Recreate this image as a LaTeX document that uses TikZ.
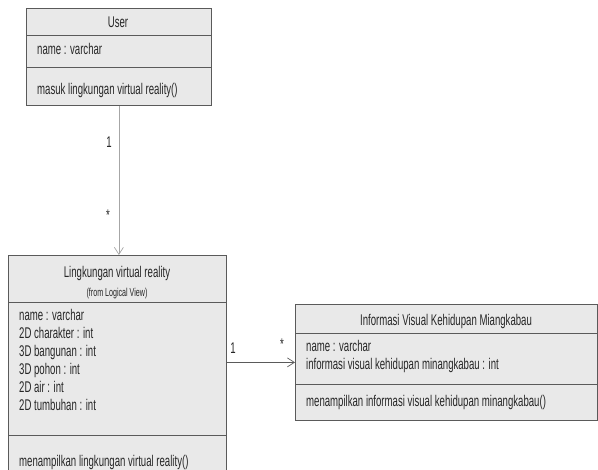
\documentclass[tikz,border=0pt]{standalone}
\usepackage{fontspec}
\setmainfont[FakeStretch=0.62]{Liberation Sans}
\usetikzlibrary{arrows.meta}
\definecolor{boxfill}{HTML}{E9E9E9}
\definecolor{boxline}{HTML}{5A5A5A}
\definecolor{txtgray}{HTML}{262626}

\begin{document}
\begin{tikzpicture}[x=1pt,y=-1pt,
	cls/.style={draw=boxline, fill=boxfill, line width=0.8pt, inner sep=0pt, anchor=north west},
	sep/.style={draw=boxline, line width=0.8pt},
	lbl/.style={text=txtgray, font=\fontsize{15.5}{17}\selectfont, inner sep=0pt, anchor=base},
	attr/.style={lbl, anchor=base west},
	assoc/.style={line width=0.7pt, -{Straight Barb[length=7pt,width=9pt]}}]
		\useasboundingbox (0,0) rectangle (598,470);
		% classes
		\node[cls, minimum width=185, minimum height=97] (user) at (26,8) {};
		\node[cls, minimum width=218, minimum height=225] (ling) at (8,255) {};
		\node[cls, minimum width=302, minimum height=116] (info) at (295,304) {};
		\draw[sep] (26,35) -- (211,35);
		\draw[sep] (26,67) -- (211,67);
		\draw[sep] (8,302) -- (226,302);
		\draw[sep] (8,435) -- (226,435);
		\draw[sep] (295,333) -- (597,333);
		\draw[sep] (295,384) -- (597,384);
		% User
		\node[lbl] (usertitle) at (118,28) {User};
		\node[attr] (username) at (37,55) {name : varchar};
		\node[attr] (usermasuk) at (37,95) {masuk lingkungan virtual reality()};
		% Lingkungan virtual reality
		\node[lbl] (lingtitle) at (117,278) {Lingkungan virtual reality};
		\node[lbl, font=\fontsize{11.5}{13}\selectfont] (lingfrom) at (117,297) {(from Logical View)};
		\node[attr] (lingname) at (19,321) {name : varchar};
		\node[attr] (lingchar) at (19,339) {2D charakter : int};
		\node[attr] (lingbang) at (19,357) {3D bangunan : int};
		\node[attr] (lingpoh) at (19,375) {3D pohon : int};
		\node[attr] (lingair) at (19,393) {2D air : int};
		\node[attr] (lingtum) at (19,411) {2D tumbuhan : int};
		\node[attr] (lingtampil) at (19,467) {menampilkan lingkungan virtual reality()};
		% Informasi Visual Kehidupan Miangkabau
		\node[lbl] (infotitle) at (446,326) {Informasi Visual Kehidupan Miangkabau};
		\node[attr] (infoname) at (306,352) {name : varchar};
		\node[attr] (infovis) at (306,370) {informasi visual kehidupan minangkabau : int};
		\node[attr] (infotampil) at (306,407) {menampilkan informasi visual kehidupan minangkabau()};
		% associations
		\draw[assoc, draw=gray!70] (user.south) -- (user.south |- ling.north);
		\draw[assoc, draw=boxline] (info.west -| ling.east) -- (info.west);
		\node[lbl] (multa) at (109,148) {1};
		\node[lbl] (multb) at (108,221) {*};
		\node[lbl] (multc) at (233,354) {1};
		\node[lbl] (multd) at (282,350) {*};
	\end{tikzpicture}
\end{document}
